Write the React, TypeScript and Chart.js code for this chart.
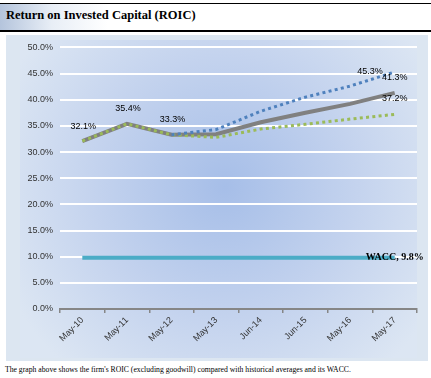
import React, { useEffect, useRef } from "react";
import { Chart, registerables } from "chart.js";

Chart.register(...registerables);

const categories = ["May-10", "May-11", "May-12", "May-13", "Jun-14", "Jun-15", "May-16", "May-17"];
const roicValues = [32.1, 35.4, 33.3, 33.4, 35.7, 37.5, 39.2, 41.3];
const highValues = [null, null, 33.3, 34.3, 37.8, 40.5, 42.6, 45.3];
const lowValues = [32.1, 35.4, 33.3, 32.8, 34.4, 35.3, 36.3, 37.2];
const waccValues = [9.8, 9.8, 9.8, 9.8, 9.8, 9.8, 9.8, 9.8];
const yTicks = [0, 5, 10, 15, 20, 25, 30, 35, 40, 45, 50];
const titleText = "Return on Invested Capital (ROIC)";
const captionText =
  "The graph above shows the firm's ROIC (excluding goodwill) compared with historical averages and its WACC.";

const sansFont = "'Liberation Sans', Arial, sans-serif";

const bgPlugin = {
  id: "bgPlugin",
  beforeDraw(chart: any) {
    const { ctx, width, height } = chart;
    ctx.save();
    ctx.fillStyle = "#dce6f1";
    ctx.fillRect(0, 0, width, height);
    const cx = 219;
    const cy = 152;
    const g = ctx.createRadialGradient(cx, cy, 0, cx, cy, 240);
    g.addColorStop(0, "#a6bee8");
    g.addColorStop(0.55, "#c4d3ee");
    g.addColorStop(1, "#dce6f3");
    ctx.fillStyle = g;
    ctx.fillRect(14, 5, 397, 318);
    ctx.restore();
  },
};

const labelPlugin = {
  id: "labelPlugin",
  afterDatasetsDraw(chart: any) {
    const { ctx } = chart;
    const pt = (ds: number, i: number) => chart.getDatasetMeta(ds).data[i];
    const fmt = (v: number) => v.toFixed(1) + "%";
    ctx.save();
    ctx.fillStyle = "#000";
    ctx.font = "9px " + sansFont;
    ctx.textBaseline = "middle";
    ctx.textAlign = "center";
    [0, 1, 2].forEach((i) => {
      const p = pt(1, i);
      ctx.fillText(fmt(roicValues[i]), p.x + 1, p.y - 15);
    });
    const last = categories.length - 1;
    const ph = pt(3, last);
    ctx.textAlign = "right";
    ctx.fillText(fmt(highValues[last] as number), ph.x - 12, ph.y);
    ctx.textAlign = "center";
    const pr = pt(1, last);
    ctx.fillText(fmt(roicValues[last]), pr.x, pr.y - 15);
    const pl = pt(2, last);
    ctx.fillText(fmt(lowValues[last]), pl.x, pl.y - 16);
    const pw = pt(0, last);
    ctx.font = "bold 10px 'Liberation Serif', 'Times New Roman', serif";
    ctx.fillText("WACC, " + fmt(waccValues[last]), pw.x, pw.y);
    ctx.restore();
  },
};

function RoicChart() {
  const ref = useRef<HTMLCanvasElement | null>(null);
  useEffect(() => {
    if (!ref.current) return;
    const chart = new Chart(ref.current, {
      type: "line",
      data: {
        labels: categories,
        datasets: [
          {
            label: "WACC",
            data: waccValues,
            borderColor: "#4bacc6",
            borderWidth: 4,
            pointRadius: 0,
            order: 4,
          },
          {
            label: "ROIC",
            data: roicValues,
            borderColor: "#808080",
            borderWidth: 4,
            pointRadius: 0,
            order: 3,
          },
          {
            label: "Low",
            data: lowValues,
            borderColor: "#9bbb59",
            borderWidth: 3,
            borderDash: [3, 3.3],
            pointRadius: 0,
            order: 2,
          },
          {
            label: "High",
            data: highValues,
            borderColor: "#4f81bd",
            borderWidth: 3,
            borderDash: [3, 3.3],
            pointRadius: 0,
            spanGaps: false,
            order: 1,
          },
        ],
      },
      options: {
        animation: false,
        responsive: false,
        layout: { padding: { top: 11, right: 11, left: 0, bottom: 0 } },
        plugins: { legend: { display: false }, tooltip: { enabled: false } },
        scales: {
          x: {
            offset: true,
            grid: {
              display: true,
              offset: true,
              drawOnChartArea: false,
              drawTicks: true,
              tickLength: 4,
              color: "#868686",
              lineWidth: 1.5,
            },
            border: { display: true, color: "#868686", width: 2 },
            ticks: {
              minRotation: 45,
              maxRotation: 45,
              padding: 2,
              color: "#333",
              font: { family: sansFont, size: 9 },
            },
            afterFit(scale: any) {
              scale.height = 52;
            },
          },
          y: {
            min: 0,
            max: 50,
            afterBuildTicks(scale: any) {
              scale.ticks = yTicks.map((v) => ({ value: v }));
            },
            grid: { color: "#ffffff", lineWidth: 2, drawTicks: false },
            border: { display: false },
            ticks: {
              padding: 7,
              color: "#333",
              font: { family: sansFont, size: 9 },
              callback: (v: any) => Number(v).toFixed(1) + "%",
            },
            afterFit(scale: any) {
              scale.width = 54;
            },
          },
        },
      },
      plugins: [bgPlugin, labelPlugin],
    });
    return () => chart.destroy();
  }, []);
  return <canvas ref={ref} width={422} height={326} style={{ display: "block" }} />;
}

export default function App() {
  useEffect(() => {
    document.body.style.margin = "0";
  }, []);
  return (
    <div style={{ position: "relative", width: 431, height: 378, background: "#fff", overflow: "hidden" }}>
      <div style={{ position: "absolute", left: 0, top: 3, width: 431, height: 1, background: "#000" }} />
      <div
        style={{
          position: "absolute",
          left: 0,
          top: 4,
          width: 431,
          height: 26,
          background: "linear-gradient(to right, #b4c4dc 0%, #e8eef6 12%, #ffffff 25%)",
        }}
      />
      <div
        style={{
          position: "absolute",
          left: 6,
          top: 8,
          font: "bold 12.5px 'Liberation Serif', 'Times New Roman', serif",
          color: "#000",
          whiteSpace: "nowrap",
        }}
      >
        {titleText}
      </div>
      <div style={{ position: "absolute", left: 0, top: 30, width: 431, height: 2, background: "#000" }} />
      <div style={{ position: "absolute", left: 6, top: 35, width: 422, height: 326 }}>
        <RoicChart />
      </div>
      <div
        style={{
          position: "absolute",
          left: 5,
          top: 365,
          font: "7.7px 'Liberation Serif', 'Times New Roman', serif",
          color: "#000",
          whiteSpace: "nowrap",
        }}
      >
        {captionText}
      </div>
    </div>
  );
}
